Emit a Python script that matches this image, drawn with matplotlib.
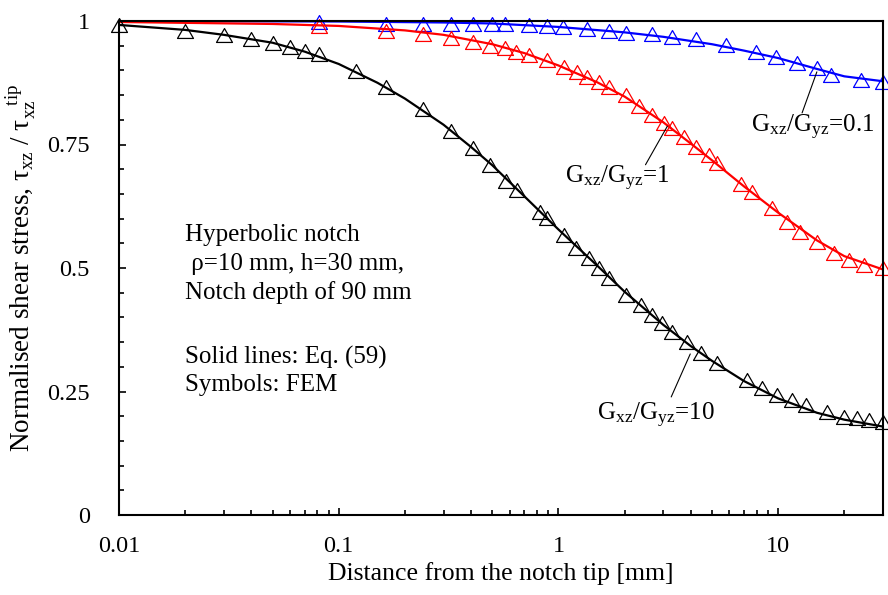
import matplotlib
matplotlib.use('Agg')
import matplotlib.pyplot as plt
from matplotlib.path import Path
from matplotlib.ticker import FixedLocator, NullFormatter, LogLocator

plt.rcParams['font.family'] = ['Liberation Serif', 'DejaVu Serif']
plt.rcParams['mathtext.fontset'] = 'custom'
plt.rcParams['mathtext.rm'] = 'Liberation Serif'
plt.rcParams['mathtext.it'] = 'Liberation Serif:italic'

# FEM symbols
fem10_x = [0.01, 0.02, 0.03, 0.04, 0.05, 0.06, 0.07, 0.081, 0.12, 0.164, 0.243, 0.326,
           0.407, 0.49, 0.578, 0.65, 0.82, 0.89, 1.065, 1.207, 1.383, 1.536, 1.705, 2.04,
           2.38, 2.675, 2.97, 3.30, 3.86, 4.47, 5.28, 7.23, 8.46, 9.9, 11.6, 13.4, 16.7,
           20.0, 22.9, 25.9, 30.0]
fem10_y = [0.992, 0.980, 0.972, 0.964, 0.955, 0.947, 0.939, 0.933, 0.899, 0.866, 0.822, 0.777,
           0.743, 0.709, 0.676, 0.658, 0.613, 0.601, 0.567, 0.540, 0.520, 0.500, 0.480, 0.445,
           0.425, 0.405, 0.389, 0.370, 0.350, 0.328, 0.308, 0.273, 0.257, 0.243, 0.233, 0.223,
           0.209, 0.198, 0.196, 0.192, 0.188]

fem1_x = [0.081, 0.164, 0.243, 0.326, 0.407, 0.49, 0.57, 0.644, 0.738, 0.891, 1.065, 1.22,
          1.354, 1.536, 1.705, 2.04, 2.335, 2.675, 3.03, 3.30, 3.74, 4.24, 4.86, 5.28, 6.79,
          7.62, 9.39, 11.0, 12.6, 15.0, 18.0, 21.0, 24.6, 30.0]
fem1_y = [0.990, 0.980, 0.974, 0.966, 0.957, 0.949, 0.945, 0.937, 0.931, 0.921, 0.907, 0.897,
          0.887, 0.877, 0.866, 0.850, 0.828, 0.810, 0.794, 0.783, 0.765, 0.745, 0.729, 0.713,
          0.670, 0.654, 0.621, 0.593, 0.573, 0.553, 0.530, 0.516, 0.506, 0.500]

fem01_x = [0.081, 0.164, 0.243, 0.326, 0.407, 0.496, 0.57, 0.738, 0.891, 1.054, 1.354, 1.705,
           2.04, 2.675, 3.30, 4.24, 5.80, 7.95, 9.79, 12.2, 15.0, 17.4, 23.8, 30.0]
fem01_y = [0.998, 0.994, 0.994, 0.994, 0.994, 0.994, 0.994, 0.992, 0.990, 0.988, 0.984, 0.980,
           0.976, 0.974, 0.968, 0.964, 0.951, 0.937, 0.927, 0.915, 0.905, 0.891, 0.881, 0.877]

# Eq. (59) solid lines
eq10_x = [0.01, 0.02, 0.03, 0.05, 0.07, 0.1, 0.15, 0.2, 0.3, 0.4, 0.5, 0.7, 1.0, 1.5, 2.0,
          3.0, 4.0, 5.0, 7.0, 10.0, 15.0, 20.0, 30.0]
eq10_y = [0.992, 0.982, 0.972, 0.956, 0.938, 0.913, 0.875, 0.843, 0.790, 0.745, 0.708, 0.645,
          0.578, 0.505, 0.452, 0.385, 0.342, 0.312, 0.271, 0.236, 0.207, 0.193, 0.179]

eq1_x = [0.01, 0.05, 0.1, 0.2, 0.3, 0.5, 0.7, 1.0, 1.5, 2.0, 3.0, 4.0, 5.0, 7.0, 10.0, 15.0,
         20.0, 30.0]
eq1_y = [0.998, 0.994, 0.990, 0.981, 0.972, 0.953, 0.935, 0.910, 0.876, 0.847, 0.795, 0.752,
         0.718, 0.665, 0.612, 0.556, 0.524, 0.497]

eq01_x = [0.01, 0.1, 0.3, 0.5, 1.0, 2.0, 3.0, 5.0, 7.0, 10.0, 15.0, 20.0, 30.0]
eq01_y = [1.0, 0.999, 0.997, 0.995, 0.988, 0.977, 0.968, 0.953, 0.940, 0.925, 0.903, 0.888, 0.878]

# curve labels: text, text anchor, leader line ends
labels = [r'G$_{\mathrm{xz}}$/G$_{\mathrm{yz}}$=0.1',
          r'G$_{\mathrm{xz}}$/G$_{\mathrm{yz}}$=1',
          r'G$_{\mathrm{xz}}$/G$_{\mathrm{yz}}$=10']
label_pos = [(14.3, 0.775), (1.85, 0.672), (2.79, 0.192)]
leader_from = [(15.0, 0.897), (3.13, 0.787), (3.98, 0.326)]
leader_to = [(12.85, 0.814), (2.49, 0.709), (3.26, 0.239)]

notes = ['Hyperbolic notch', ' ρ=10 mm, h=30 mm,', 'Notch depth of 90 mm',
         'Solid lines: Eq. (59)', 'Symbols: FEM']
note_y = [0.555, 0.495, 0.437, 0.307, 0.252]

tri = Path([(-1, -0.87), (1, -0.87), (0, 0.87), (-1, -0.87)],
           [Path.MOVETO, Path.LINETO, Path.LINETO, Path.CLOSEPOLY])

fig = plt.figure(figsize=(8.88, 5.95), dpi=100)
ax = fig.add_axes([119/888, 80/595, 764/888, 494/595])

for lx, ly, mx, my, c in [(eq01_x, eq01_y, fem01_x, fem01_y, '#0000ff'),
                          (eq1_x, eq1_y, fem1_x, fem1_y, '#ff0000'),
                          (eq10_x, eq10_y, fem10_x, fem10_y, 'black')]:
    ax.plot(lx, ly, color=c, lw=1.6)
    ax.plot(mx, my, ls='none', marker=tri, ms=11.5, mfc='none', mec=c, mew=0.9, clip_on=False)

ax.set_xscale('log')
ax.set_xlim(0.01, 30)
ax.set_ylim(0, 1)
ax.xaxis.set_major_locator(FixedLocator([0.01, 0.1, 1, 10]))
ax.set_xticklabels(['0.01', '0.1', '1', '10'])
ax.xaxis.set_minor_locator(LogLocator(base=10, subs=range(2, 10), numticks=20))
ax.xaxis.set_minor_formatter(NullFormatter())
ax.set_yticks([0, 0.25, 0.5, 0.75, 1])
ax.set_yticklabels(['0', '0.25', '0.5', '0.75', '1'])
ax.set_yticks([i * 0.05 for i in range(21)], minor=True)
ax.tick_params(which='both', direction='in', labelsize=17.5, width=1.2)
ax.tick_params(which='major', length=5)
ax.tick_params(which='minor', length=3.5)
ax.tick_params(axis='x', pad=15)
ax.tick_params(axis='y', pad=21)
for s in ax.spines.values():
    s.set_linewidth(1.5)

ax.set_xlabel('Distance from the notch tip [mm]', fontsize=18.5, labelpad=4)
ax.set_ylabel(r'Normalised shear stress, τ$_{\mathrm{xz}}$ / τ$_{\mathrm{xz}}^{\ \ \ \mathrm{tip}}$',
              fontsize=19.5, labelpad=6)

for t, p, a, b in zip(labels, label_pos, leader_from, leader_to):
    ax.annotate('', xy=a, xytext=b,
                arrowprops=dict(arrowstyle='-', color='black', lw=0.8, shrinkA=0, shrinkB=0))
    ax.text(p[0], p[1], t, fontsize=18, ha='center', va='baseline')

for t, yy in zip(notes, note_y):
    ax.text(0.02, yy, t, fontsize=18, ha='left', va='baseline')

fig.savefig('out.png', dpi=100)
